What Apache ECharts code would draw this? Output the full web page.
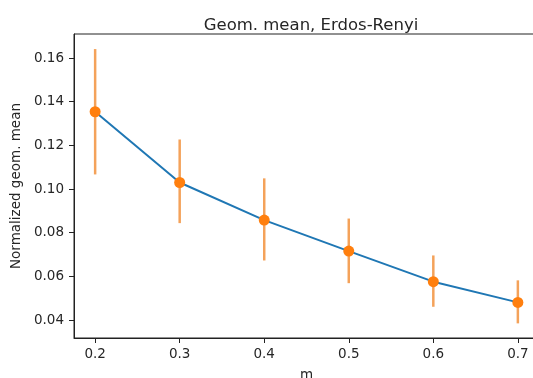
<!DOCTYPE html>
<html>
<head>
<meta charset="utf-8">
<script src="https://cdn.jsdelivr.net/npm/echarts@6/dist/echarts.min.js"></script>
<style>html,body{margin:0;padding:0;background:#fff;}#c{width:533px;height:378px;}</style>
</head>
<body>
<div id="c"></div>
<script>
const mValues = [0.2, 0.3, 0.4, 0.5, 0.6, 0.7];
const meanValues = [0.1354, 0.1030, 0.0858, 0.0716, 0.0576, 0.0481];
const lowerValues = [0.1067, 0.0844, 0.0673, 0.0569, 0.0461, 0.0385];
const upperValues = [0.1641, 0.1227, 0.1049, 0.0865, 0.0696, 0.0582];
const xTicks = [0.2, 0.3, 0.4, 0.5, 0.6, 0.7];
const yTicks = [0.04, 0.06, 0.08, 0.10, 0.12, 0.14, 0.16];

const font = 'DejaVu Sans';
const txt = '#262626';
const chart = echarts.init(document.getElementById('c'));
const lineData = mValues.map((m, i) => [m, meanValues[i]]);
const errData = mValues.map((m, i) => [m, lowerValues[i], upperValues[i]]);

chart.setOption({
  animation: false,
  title: {
    text: 'Geom. mean, Erdos-Renyi',
    left: 306, top: 12, textAlign: 'center',
    textStyle: {fontFamily: font, fontSize: 16.5, fontWeight: 'normal', color: txt}
  },
  grid: {left: 74, top: 34, width: 465, height: 304, show: true, borderColor: '#222', borderWidth: 1, backgroundColor: '#fff',
    outerBoundsMode: 'none', containLabel: false},
  xAxis: {
    type: 'value', min: 0.175, max: 0.725,
    name: 'm', nameLocation: 'middle', nameGap: 30,
    nameTextStyle: {fontFamily: font, fontSize: 13.5, color: txt},
    axisLine: {show: true, onZero: false, lineStyle: {color: '#222', width: 1}},
    axisTick: {show: true, length: 5, customValues: xTicks, lineStyle: {color: '#222'}},
    axisLabel: {customValues: xTicks, margin: 9, fontFamily: font, fontSize: 13.5, color: txt,
      formatter: v => v.toFixed(1)},
    splitLine: {show: false}
  },
  yAxis: {
    type: 'value', min: 0.0318, max: 0.171,
    name: 'Normalized geom. mean', nameLocation: 'middle', nameGap: 46, nameRotate: 90,
    nameTextStyle: {fontFamily: font, fontSize: 13.5, color: txt},
    axisLine: {show: true, onZero: false, lineStyle: {color: '#222', width: 1}},
    axisTick: {show: true, length: 5, customValues: yTicks, lineStyle: {color: '#222'}},
    axisLabel: {customValues: yTicks, margin: 10, fontFamily: font, fontSize: 13.5, color: txt,
      formatter: v => v.toFixed(2)},
    splitLine: {show: false}
  },
  series: [
    {
      type: 'line', data: lineData, showSymbol: false, symbol: 'none',
      lineStyle: {color: '#1f77b4', width: 2}, z: 2
    },
    {
      type: 'custom', data: errData, z: 3,
      renderItem: function (params, api) {
        const x = api.value(0);
        const p1 = api.coord([x, api.value(1)]);
        const p2 = api.coord([x, api.value(2)]);
        return {
          type: 'line',
          shape: {x1: p1[0], y1: p1[1], x2: p2[0], y2: p2[1]},
          style: {stroke: '#f4a25a', lineWidth: 2.5}
        };
      }
    },
    {
      type: 'scatter', data: lineData, symbol: 'circle', symbolSize: 11,
      itemStyle: {color: '#ff7f0e', opacity: 1}, z: 4
    }
  ]
});
</script>
</body>
</html>
